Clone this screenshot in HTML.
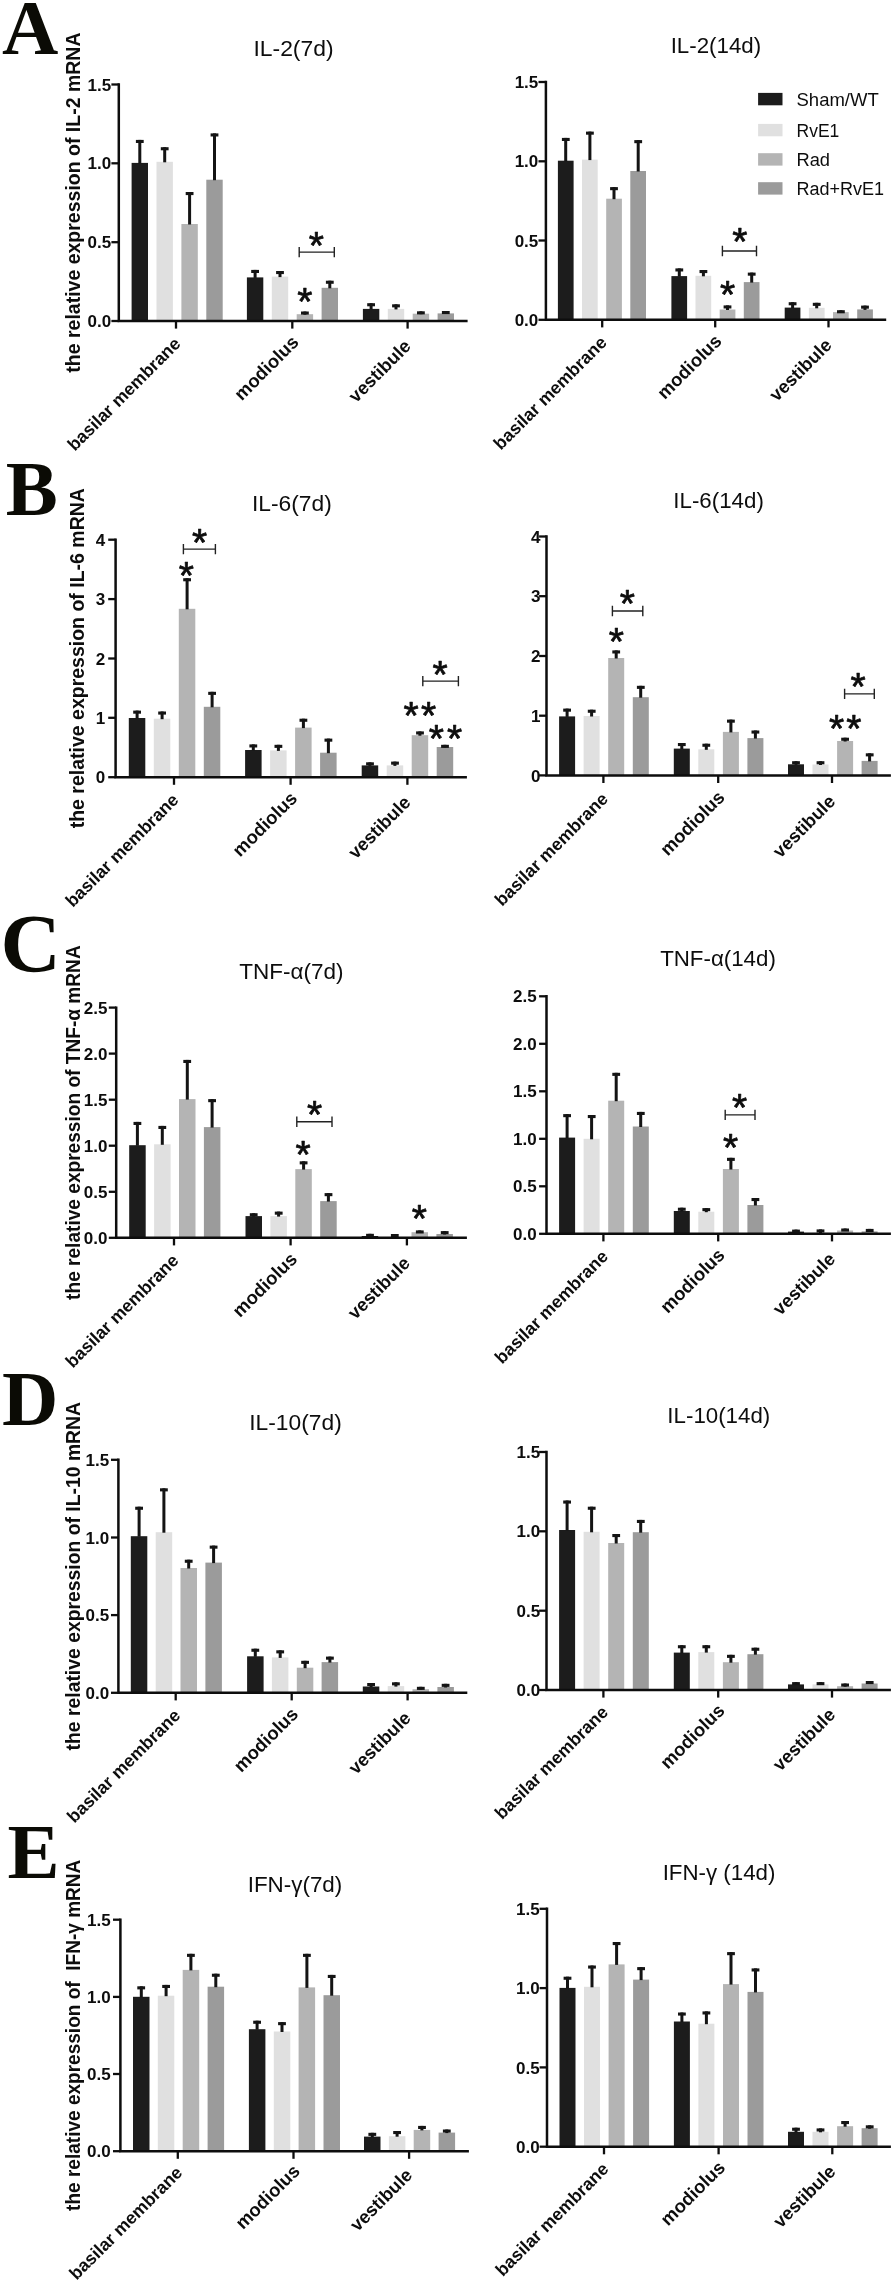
<!DOCTYPE html>
<html><head><meta charset="utf-8"><title>Figure</title>
<style>html,body{margin:0;padding:0;background:#fff}svg{display:block;will-change:transform}</style></head>
<body><svg width="894" height="2283" viewBox="0 0 894 2283">
<rect width="894" height="2283" fill="#fff"/>
<rect x="131.6" y="162.9" width="16.4" height="158.1" fill="#1c1c1c"/>
<rect x="138.3" y="139.9" width="3" height="23.5" fill="#141414"/>
<rect x="135.9" y="139.9" width="7.8" height="3.1" fill="#141414"/>
<rect x="156.5" y="161.8" width="16.4" height="159.2" fill="#e0e0e0"/>
<rect x="163.2" y="147.2" width="3" height="15.1" fill="#141414"/>
<rect x="160.8" y="147.2" width="7.8" height="3.1" fill="#141414"/>
<rect x="181.4" y="224.0" width="16.4" height="97.0" fill="#b4b4b4"/>
<rect x="188.1" y="192.0" width="3" height="32.5" fill="#141414"/>
<rect x="185.7" y="192.0" width="7.8" height="3.1" fill="#141414"/>
<rect x="206.3" y="179.7" width="16.4" height="141.3" fill="#9b9b9b"/>
<rect x="213.0" y="133.4" width="3" height="46.8" fill="#141414"/>
<rect x="210.6" y="133.4" width="7.8" height="3.1" fill="#141414"/>
<rect x="246.9" y="277.4" width="16.4" height="43.6" fill="#1c1c1c"/>
<rect x="253.6" y="269.9" width="3" height="8.0" fill="#141414"/>
<rect x="251.2" y="269.9" width="7.8" height="3.1" fill="#141414"/>
<rect x="271.8" y="276.6" width="16.4" height="44.4" fill="#e0e0e0"/>
<rect x="278.5" y="271.0" width="3" height="6.1" fill="#141414"/>
<rect x="276.1" y="271.0" width="7.8" height="3.1" fill="#141414"/>
<rect x="296.7" y="314.2" width="16.4" height="6.8" fill="#b4b4b4"/>
<rect x="303.4" y="311.5" width="3" height="3.2" fill="#141414"/>
<rect x="301.0" y="311.5" width="7.8" height="3.1" fill="#141414"/>
<rect x="321.6" y="287.8" width="16.4" height="33.2" fill="#9b9b9b"/>
<rect x="328.3" y="280.7" width="3" height="7.6" fill="#141414"/>
<rect x="325.9" y="280.7" width="7.8" height="3.1" fill="#141414"/>
<rect x="362.9" y="308.9" width="16.4" height="12.1" fill="#1c1c1c"/>
<rect x="369.6" y="303.2" width="3" height="6.2" fill="#141414"/>
<rect x="367.2" y="303.2" width="7.8" height="3.1" fill="#141414"/>
<rect x="387.8" y="308.9" width="16.4" height="12.1" fill="#e0e0e0"/>
<rect x="394.5" y="304.3" width="3" height="5.1" fill="#141414"/>
<rect x="392.1" y="304.3" width="7.8" height="3.1" fill="#141414"/>
<rect x="412.7" y="313.7" width="16.4" height="7.3" fill="#b4b4b4"/>
<rect x="419.4" y="311.3" width="3" height="2.9" fill="#141414"/>
<rect x="417.0" y="311.3" width="7.8" height="3.1" fill="#141414"/>
<rect x="437.6" y="313.4" width="16.4" height="7.6" fill="#9b9b9b"/>
<rect x="444.3" y="311.0" width="3" height="2.9" fill="#141414"/>
<rect x="441.9" y="311.0" width="7.8" height="3.1" fill="#141414"/>
<path d="M118.8 83.2V321.0H467.6" stroke="#0d0d0d" stroke-width="2.5" fill="none"/>
<path d="M111.4 84.5H118.8" stroke="#0d0d0d" stroke-width="2.3"/>
<text x="111.2" y="90.6" font-size="17" font-weight="bold" text-anchor="end" font-family="Liberation Sans, sans-serif" fill="#0d0d0d">1.5</text>
<path d="M111.4 163.3H118.8" stroke="#0d0d0d" stroke-width="2.3"/>
<text x="111.2" y="169.4" font-size="17" font-weight="bold" text-anchor="end" font-family="Liberation Sans, sans-serif" fill="#0d0d0d">1.0</text>
<path d="M111.4 242.2H118.8" stroke="#0d0d0d" stroke-width="2.3"/>
<text x="111.2" y="248.3" font-size="17" font-weight="bold" text-anchor="end" font-family="Liberation Sans, sans-serif" fill="#0d0d0d">0.5</text>
<path d="M111.4 321.0H118.8" stroke="#0d0d0d" stroke-width="2.3"/>
<text x="111.2" y="327.1" font-size="17" font-weight="bold" text-anchor="end" font-family="Liberation Sans, sans-serif" fill="#0d0d0d">0.0</text>
<path d="M176.0 321.0V328.6" stroke="#0d0d0d" stroke-width="2.3"/>
<path d="M292.3 321.0V328.6" stroke="#0d0d0d" stroke-width="2.3"/>
<path d="M407.6 321.0V328.6" stroke="#0d0d0d" stroke-width="2.3"/>
<text transform="translate(181.7 344.8) rotate(-45)" font-size="17.7" font-weight="bold" text-anchor="end" font-family="Liberation Sans, sans-serif" fill="#0d0d0d">basilar membrane</text>
<text transform="translate(299.9 343.3) rotate(-45)" font-size="18.5" font-weight="bold" text-anchor="end" font-family="Liberation Sans, sans-serif" fill="#0d0d0d">modiolus</text>
<text transform="translate(412.0 347.4) rotate(-45)" font-size="18.3" font-weight="bold" text-anchor="end" font-family="Liberation Sans, sans-serif" fill="#0d0d0d">vestibule</text>
<text x="293.5" y="56.0" font-size="22.9" text-anchor="middle" font-family="Liberation Sans, sans-serif" fill="#0d0d0d">IL-2(7d)</text>
<text transform="translate(80.0 202.6) rotate(-90) scale(1 1)" font-size="19.5" font-weight="bold" text-anchor="middle" font-family="Liberation Sans, sans-serif" fill="#0d0d0d">the relative expression of IL-2 mRNA</text>
<text x="316.3" y="258.8" font-size="39" text-anchor="middle" font-family="Liberation Sans, sans-serif" fill="#0d0d0d" stroke="#0d0d0d" stroke-width="0.7" stroke-linejoin="round">*</text>
<text x="304.8" y="314.5" font-size="39" text-anchor="middle" font-family="Liberation Sans, sans-serif" fill="#0d0d0d" stroke="#0d0d0d" stroke-width="0.7" stroke-linejoin="round">*</text>
<path d="M299.2 246.9V257.3M334.3 246.9V257.3M299.2 252.1H334.3" stroke="#222" stroke-width="1.4" fill="none"/>
<text x="2.0" y="54.2" font-size="78" font-weight="bold" font-family="Liberation Serif, serif" fill="#0b0b05">A</text>
<rect x="557.9" y="160.7" width="15.7" height="159.1" fill="#1c1c1c"/>
<rect x="564.2" y="137.9" width="3" height="23.3" fill="#141414"/>
<rect x="561.9" y="137.9" width="7.8" height="3.1" fill="#141414"/>
<rect x="582.0" y="159.6" width="15.7" height="160.2" fill="#e0e0e0"/>
<rect x="588.4" y="131.6" width="3" height="28.5" fill="#141414"/>
<rect x="586.0" y="131.6" width="7.8" height="3.1" fill="#141414"/>
<rect x="606.2" y="198.7" width="15.7" height="121.1" fill="#b4b4b4"/>
<rect x="612.5" y="187.1" width="3" height="12.1" fill="#141414"/>
<rect x="610.1" y="187.1" width="7.8" height="3.1" fill="#141414"/>
<rect x="630.3" y="171.0" width="15.7" height="148.8" fill="#9b9b9b"/>
<rect x="636.7" y="140.1" width="3" height="31.4" fill="#141414"/>
<rect x="634.3" y="140.1" width="7.8" height="3.1" fill="#141414"/>
<rect x="671.4" y="276.1" width="15.7" height="43.7" fill="#1c1c1c"/>
<rect x="677.8" y="268.4" width="3" height="8.2" fill="#141414"/>
<rect x="675.4" y="268.4" width="7.8" height="3.1" fill="#141414"/>
<rect x="695.5" y="275.8" width="15.7" height="44.0" fill="#e0e0e0"/>
<rect x="701.9" y="270.0" width="3" height="6.3" fill="#141414"/>
<rect x="699.5" y="270.0" width="7.8" height="3.1" fill="#141414"/>
<rect x="719.7" y="309.5" width="15.7" height="10.3" fill="#b4b4b4"/>
<rect x="726.0" y="305.4" width="3" height="4.6" fill="#141414"/>
<rect x="723.6" y="305.4" width="7.8" height="3.1" fill="#141414"/>
<rect x="743.8" y="282.1" width="15.7" height="37.7" fill="#9b9b9b"/>
<rect x="750.2" y="272.6" width="3" height="10.0" fill="#141414"/>
<rect x="747.8" y="272.6" width="7.8" height="3.1" fill="#141414"/>
<rect x="784.7" y="307.6" width="15.7" height="12.2" fill="#1c1c1c"/>
<rect x="791.1" y="302.2" width="3" height="5.9" fill="#141414"/>
<rect x="788.7" y="302.2" width="7.8" height="3.1" fill="#141414"/>
<rect x="808.9" y="307.8" width="15.7" height="12.0" fill="#e0e0e0"/>
<rect x="815.2" y="302.8" width="3" height="5.5" fill="#141414"/>
<rect x="812.8" y="302.8" width="7.8" height="3.1" fill="#141414"/>
<rect x="833.0" y="312.1" width="15.7" height="7.7" fill="#b4b4b4"/>
<rect x="839.4" y="310.2" width="3" height="2.4" fill="#141414"/>
<rect x="837.0" y="310.2" width="7.8" height="3.1" fill="#141414"/>
<rect x="857.2" y="309.4" width="15.7" height="10.4" fill="#9b9b9b"/>
<rect x="863.5" y="305.6" width="3" height="4.3" fill="#141414"/>
<rect x="861.1" y="305.6" width="7.8" height="3.1" fill="#141414"/>
<path d="M545.9 80.8V319.8H886.2" stroke="#0d0d0d" stroke-width="2.5" fill="none"/>
<path d="M538.5 82.0H545.9" stroke="#0d0d0d" stroke-width="2.3"/>
<text x="538.3" y="88.1" font-size="17" font-weight="bold" text-anchor="end" font-family="Liberation Sans, sans-serif" fill="#0d0d0d">1.5</text>
<path d="M538.5 161.3H545.9" stroke="#0d0d0d" stroke-width="2.3"/>
<text x="538.3" y="167.4" font-size="17" font-weight="bold" text-anchor="end" font-family="Liberation Sans, sans-serif" fill="#0d0d0d">1.0</text>
<path d="M538.5 240.5H545.9" stroke="#0d0d0d" stroke-width="2.3"/>
<text x="538.3" y="246.6" font-size="17" font-weight="bold" text-anchor="end" font-family="Liberation Sans, sans-serif" fill="#0d0d0d">0.5</text>
<path d="M538.5 319.8H545.9" stroke="#0d0d0d" stroke-width="2.3"/>
<text x="538.3" y="325.9" font-size="17" font-weight="bold" text-anchor="end" font-family="Liberation Sans, sans-serif" fill="#0d0d0d">0.0</text>
<path d="M602.2 319.8V327.4" stroke="#0d0d0d" stroke-width="2.3"/>
<path d="M715.2 319.8V327.4" stroke="#0d0d0d" stroke-width="2.3"/>
<path d="M828.5 319.8V327.4" stroke="#0d0d0d" stroke-width="2.3"/>
<text transform="translate(607.9 343.6) rotate(-45)" font-size="17.7" font-weight="bold" text-anchor="end" font-family="Liberation Sans, sans-serif" fill="#0d0d0d">basilar membrane</text>
<text transform="translate(722.8 342.1) rotate(-45)" font-size="18.5" font-weight="bold" text-anchor="end" font-family="Liberation Sans, sans-serif" fill="#0d0d0d">modiolus</text>
<text transform="translate(832.9 346.2) rotate(-45)" font-size="18.3" font-weight="bold" text-anchor="end" font-family="Liberation Sans, sans-serif" fill="#0d0d0d">vestibule</text>
<text x="715.9" y="52.9" font-size="22.3" text-anchor="middle" font-family="Liberation Sans, sans-serif" fill="#0d0d0d">IL-2(14d)</text>
<text x="739.9" y="254.8" font-size="39" text-anchor="middle" font-family="Liberation Sans, sans-serif" fill="#0d0d0d" stroke="#0d0d0d" stroke-width="0.7" stroke-linejoin="round">*</text>
<text x="727.6" y="307.5" font-size="39" text-anchor="middle" font-family="Liberation Sans, sans-serif" fill="#0d0d0d" stroke="#0d0d0d" stroke-width="0.7" stroke-linejoin="round">*</text>
<path d="M722.4 245.8V256.2M756.5 245.8V256.2M722.4 251.0H756.5" stroke="#222" stroke-width="1.4" fill="none"/>
<rect x="128.8" y="718.0" width="16.5" height="59.2" fill="#1c1c1c"/>
<rect x="135.6" y="710.6" width="3" height="7.9" fill="#141414"/>
<rect x="133.2" y="710.6" width="7.8" height="3.1" fill="#141414"/>
<rect x="153.8" y="718.7" width="16.5" height="58.5" fill="#e0e0e0"/>
<rect x="160.6" y="711.5" width="3" height="7.7" fill="#141414"/>
<rect x="158.2" y="711.5" width="7.8" height="3.1" fill="#141414"/>
<rect x="178.8" y="608.8" width="16.5" height="168.4" fill="#b4b4b4"/>
<rect x="185.6" y="578.2" width="3" height="31.1" fill="#141414"/>
<rect x="183.2" y="578.2" width="7.8" height="3.1" fill="#141414"/>
<rect x="203.8" y="706.8" width="16.5" height="70.4" fill="#9b9b9b"/>
<rect x="210.6" y="691.8" width="3" height="15.5" fill="#141414"/>
<rect x="208.2" y="691.8" width="7.8" height="3.1" fill="#141414"/>
<rect x="245.1" y="750.0" width="16.5" height="27.2" fill="#1c1c1c"/>
<rect x="251.8" y="744.4" width="3" height="6.1" fill="#141414"/>
<rect x="249.4" y="744.4" width="7.8" height="3.1" fill="#141414"/>
<rect x="270.1" y="750.4" width="16.5" height="26.8" fill="#e0e0e0"/>
<rect x="276.9" y="744.8" width="3" height="6.1" fill="#141414"/>
<rect x="274.5" y="744.8" width="7.8" height="3.1" fill="#141414"/>
<rect x="295.1" y="727.6" width="16.5" height="49.6" fill="#b4b4b4"/>
<rect x="301.9" y="718.7" width="3" height="9.4" fill="#141414"/>
<rect x="299.5" y="718.7" width="7.8" height="3.1" fill="#141414"/>
<rect x="320.1" y="752.7" width="16.5" height="24.5" fill="#9b9b9b"/>
<rect x="326.9" y="738.6" width="3" height="14.6" fill="#141414"/>
<rect x="324.5" y="738.6" width="7.8" height="3.1" fill="#141414"/>
<rect x="361.7" y="765.4" width="16.5" height="11.8" fill="#1c1c1c"/>
<rect x="368.4" y="762.3" width="3" height="3.6" fill="#141414"/>
<rect x="366.1" y="762.3" width="7.8" height="3.1" fill="#141414"/>
<rect x="386.7" y="765.4" width="16.5" height="11.8" fill="#e0e0e0"/>
<rect x="393.4" y="761.6" width="3" height="4.3" fill="#141414"/>
<rect x="391.1" y="761.6" width="7.8" height="3.1" fill="#141414"/>
<rect x="411.7" y="735.2" width="16.5" height="42.0" fill="#b4b4b4"/>
<rect x="418.4" y="731.4" width="3" height="4.3" fill="#141414"/>
<rect x="416.1" y="731.4" width="7.8" height="3.1" fill="#141414"/>
<rect x="436.7" y="747.0" width="16.5" height="30.2" fill="#9b9b9b"/>
<rect x="443.4" y="744.8" width="3" height="2.7" fill="#141414"/>
<rect x="441.1" y="744.8" width="7.8" height="3.1" fill="#141414"/>
<path d="M115.6 538.5V777.2H466.9" stroke="#0d0d0d" stroke-width="2.5" fill="none"/>
<path d="M108.2 539.7H115.6" stroke="#0d0d0d" stroke-width="2.3"/>
<text x="105.1" y="545.8" font-size="17" font-weight="bold" text-anchor="end" font-family="Liberation Sans, sans-serif" fill="#0d0d0d">4</text>
<path d="M108.2 599.1H115.6" stroke="#0d0d0d" stroke-width="2.3"/>
<text x="105.1" y="605.2" font-size="17" font-weight="bold" text-anchor="end" font-family="Liberation Sans, sans-serif" fill="#0d0d0d">3</text>
<path d="M108.2 658.5H115.6" stroke="#0d0d0d" stroke-width="2.3"/>
<text x="105.1" y="664.6" font-size="17" font-weight="bold" text-anchor="end" font-family="Liberation Sans, sans-serif" fill="#0d0d0d">2</text>
<path d="M108.2 717.8H115.6" stroke="#0d0d0d" stroke-width="2.3"/>
<text x="105.1" y="723.9" font-size="17" font-weight="bold" text-anchor="end" font-family="Liberation Sans, sans-serif" fill="#0d0d0d">1</text>
<path d="M108.2 777.2H115.6" stroke="#0d0d0d" stroke-width="2.3"/>
<text x="105.1" y="783.3" font-size="17" font-weight="bold" text-anchor="end" font-family="Liberation Sans, sans-serif" fill="#0d0d0d">0</text>
<path d="M174.0 777.2V784.8" stroke="#0d0d0d" stroke-width="2.3"/>
<path d="M290.6 777.2V784.8" stroke="#0d0d0d" stroke-width="2.3"/>
<path d="M407.4 777.2V784.8" stroke="#0d0d0d" stroke-width="2.3"/>
<text transform="translate(179.7 801.0) rotate(-45)" font-size="17.7" font-weight="bold" text-anchor="end" font-family="Liberation Sans, sans-serif" fill="#0d0d0d">basilar membrane</text>
<text transform="translate(298.2 799.5) rotate(-45)" font-size="18.5" font-weight="bold" text-anchor="end" font-family="Liberation Sans, sans-serif" fill="#0d0d0d">modiolus</text>
<text transform="translate(411.8 803.6) rotate(-45)" font-size="18.3" font-weight="bold" text-anchor="end" font-family="Liberation Sans, sans-serif" fill="#0d0d0d">vestibule</text>
<text x="291.9" y="510.8" font-size="22.8" text-anchor="middle" font-family="Liberation Sans, sans-serif" fill="#0d0d0d">IL-6(7d)</text>
<text transform="translate(83.7 658.2) rotate(-90) scale(1 1)" font-size="19.5" font-weight="bold" text-anchor="middle" font-family="Liberation Sans, sans-serif" fill="#0d0d0d">the relative expression of IL-6 mRNA</text>
<text x="199.7" y="556.0" font-size="39" text-anchor="middle" font-family="Liberation Sans, sans-serif" fill="#0d0d0d" stroke="#0d0d0d" stroke-width="0.7" stroke-linejoin="round">*</text>
<text x="186.4" y="588.9" font-size="39" text-anchor="middle" font-family="Liberation Sans, sans-serif" fill="#0d0d0d" stroke="#0d0d0d" stroke-width="0.7" stroke-linejoin="round">*</text>
<text x="440.0" y="687.6" font-size="39" text-anchor="middle" font-family="Liberation Sans, sans-serif" fill="#0d0d0d" stroke="#0d0d0d" stroke-width="0.7" stroke-linejoin="round">*</text>
<text x="411.0" y="728.8" font-size="39" text-anchor="middle" font-family="Liberation Sans, sans-serif" fill="#0d0d0d" stroke="#0d0d0d" stroke-width="0.7" stroke-linejoin="round">*</text>
<text x="428.7" y="728.8" font-size="39" text-anchor="middle" font-family="Liberation Sans, sans-serif" fill="#0d0d0d" stroke="#0d0d0d" stroke-width="0.7" stroke-linejoin="round">*</text>
<text x="436.3" y="751.6" font-size="39" text-anchor="middle" font-family="Liberation Sans, sans-serif" fill="#0d0d0d" stroke="#0d0d0d" stroke-width="0.7" stroke-linejoin="round">*</text>
<text x="454.5" y="751.6" font-size="39" text-anchor="middle" font-family="Liberation Sans, sans-serif" fill="#0d0d0d" stroke="#0d0d0d" stroke-width="0.7" stroke-linejoin="round">*</text>
<path d="M183.4 543.9V554.3M215.4 543.9V554.3M183.4 549.1H215.4" stroke="#222" stroke-width="1.4" fill="none"/>
<path d="M422.8 675.9V686.3M458.4 675.9V686.3M422.8 681.1H458.4" stroke="#222" stroke-width="1.4" fill="none"/>
<text x="5.7" y="514.7" font-size="78" font-weight="bold" font-family="Liberation Serif, serif" fill="#0b0b05">B</text>
<rect x="559.1" y="716.4" width="16.0" height="59.0" fill="#1c1c1c"/>
<rect x="565.6" y="708.6" width="3" height="8.3" fill="#141414"/>
<rect x="563.2" y="708.6" width="7.8" height="3.1" fill="#141414"/>
<rect x="583.6" y="716.0" width="16.0" height="59.4" fill="#e0e0e0"/>
<rect x="590.1" y="709.7" width="3" height="6.8" fill="#141414"/>
<rect x="587.8" y="709.7" width="7.8" height="3.1" fill="#141414"/>
<rect x="608.2" y="658.0" width="16.0" height="117.4" fill="#b4b4b4"/>
<rect x="614.7" y="650.4" width="3" height="8.1" fill="#141414"/>
<rect x="612.3" y="650.4" width="7.8" height="3.1" fill="#141414"/>
<rect x="632.8" y="697.2" width="16.0" height="78.2" fill="#9b9b9b"/>
<rect x="639.2" y="685.8" width="3" height="11.9" fill="#141414"/>
<rect x="636.9" y="685.8" width="7.8" height="3.1" fill="#141414"/>
<rect x="673.8" y="748.6" width="16.0" height="26.8" fill="#1c1c1c"/>
<rect x="680.3" y="743.0" width="3" height="6.1" fill="#141414"/>
<rect x="677.9" y="743.0" width="7.8" height="3.1" fill="#141414"/>
<rect x="698.3" y="749.3" width="16.0" height="26.1" fill="#e0e0e0"/>
<rect x="704.8" y="743.7" width="3" height="6.1" fill="#141414"/>
<rect x="702.4" y="743.7" width="7.8" height="3.1" fill="#141414"/>
<rect x="722.9" y="731.9" width="16.0" height="43.5" fill="#b4b4b4"/>
<rect x="729.4" y="719.6" width="3" height="12.8" fill="#141414"/>
<rect x="727.0" y="719.6" width="7.8" height="3.1" fill="#141414"/>
<rect x="747.4" y="738.1" width="16.0" height="37.3" fill="#9b9b9b"/>
<rect x="753.9" y="730.5" width="3" height="8.1" fill="#141414"/>
<rect x="751.5" y="730.5" width="7.8" height="3.1" fill="#141414"/>
<rect x="788.0" y="764.3" width="16.0" height="11.1" fill="#1c1c1c"/>
<rect x="794.5" y="761.2" width="3" height="3.6" fill="#141414"/>
<rect x="792.1" y="761.2" width="7.8" height="3.1" fill="#141414"/>
<rect x="812.5" y="764.5" width="16.0" height="10.9" fill="#e0e0e0"/>
<rect x="819.0" y="761.2" width="3" height="3.8" fill="#141414"/>
<rect x="816.6" y="761.2" width="7.8" height="3.1" fill="#141414"/>
<rect x="837.1" y="741.0" width="16.0" height="34.4" fill="#b4b4b4"/>
<rect x="843.6" y="737.7" width="3" height="3.8" fill="#141414"/>
<rect x="841.2" y="737.7" width="7.8" height="3.1" fill="#141414"/>
<rect x="861.6" y="760.9" width="16.0" height="14.5" fill="#9b9b9b"/>
<rect x="868.1" y="753.3" width="3" height="8.1" fill="#141414"/>
<rect x="865.8" y="753.3" width="7.8" height="3.1" fill="#141414"/>
<path d="M546.5 535.2V775.4H890.9" stroke="#0d0d0d" stroke-width="2.5" fill="none"/>
<path d="M539.1 536.5H546.5" stroke="#0d0d0d" stroke-width="2.3"/>
<text x="540.5" y="542.6" font-size="17" font-weight="bold" text-anchor="end" font-family="Liberation Sans, sans-serif" fill="#0d0d0d">4</text>
<path d="M539.1 596.2H546.5" stroke="#0d0d0d" stroke-width="2.3"/>
<text x="540.5" y="602.3" font-size="17" font-weight="bold" text-anchor="end" font-family="Liberation Sans, sans-serif" fill="#0d0d0d">3</text>
<path d="M539.1 656.0H546.5" stroke="#0d0d0d" stroke-width="2.3"/>
<text x="540.5" y="662.1" font-size="17" font-weight="bold" text-anchor="end" font-family="Liberation Sans, sans-serif" fill="#0d0d0d">2</text>
<path d="M539.1 715.7H546.5" stroke="#0d0d0d" stroke-width="2.3"/>
<text x="540.5" y="721.8" font-size="17" font-weight="bold" text-anchor="end" font-family="Liberation Sans, sans-serif" fill="#0d0d0d">1</text>
<path d="M539.1 775.4H546.5" stroke="#0d0d0d" stroke-width="2.3"/>
<text x="540.5" y="781.5" font-size="17" font-weight="bold" text-anchor="end" font-family="Liberation Sans, sans-serif" fill="#0d0d0d">0</text>
<path d="M603.4 775.4V783.0" stroke="#0d0d0d" stroke-width="2.3"/>
<path d="M718.2 775.4V783.0" stroke="#0d0d0d" stroke-width="2.3"/>
<path d="M832.0 775.4V783.0" stroke="#0d0d0d" stroke-width="2.3"/>
<text transform="translate(609.1 800.0) rotate(-45)" font-size="17.7" font-weight="bold" text-anchor="end" font-family="Liberation Sans, sans-serif" fill="#0d0d0d">basilar membrane</text>
<text transform="translate(725.8 798.5) rotate(-45)" font-size="18.5" font-weight="bold" text-anchor="end" font-family="Liberation Sans, sans-serif" fill="#0d0d0d">modiolus</text>
<text transform="translate(836.4 802.6) rotate(-45)" font-size="18.3" font-weight="bold" text-anchor="end" font-family="Liberation Sans, sans-serif" fill="#0d0d0d">vestibule</text>
<text x="718.6" y="507.9" font-size="22.3" text-anchor="middle" font-family="Liberation Sans, sans-serif" fill="#0d0d0d">IL-6(14d)</text>
<text x="627.4" y="617.4" font-size="39" text-anchor="middle" font-family="Liberation Sans, sans-serif" fill="#0d0d0d" stroke="#0d0d0d" stroke-width="0.7" stroke-linejoin="round">*</text>
<text x="616.4" y="655.3" font-size="39" text-anchor="middle" font-family="Liberation Sans, sans-serif" fill="#0d0d0d" stroke="#0d0d0d" stroke-width="0.7" stroke-linejoin="round">*</text>
<text x="858.0" y="699.7" font-size="39" text-anchor="middle" font-family="Liberation Sans, sans-serif" fill="#0d0d0d" stroke="#0d0d0d" stroke-width="0.7" stroke-linejoin="round">*</text>
<text x="836.7" y="741.5" font-size="39" text-anchor="middle" font-family="Liberation Sans, sans-serif" fill="#0d0d0d" stroke="#0d0d0d" stroke-width="0.7" stroke-linejoin="round">*</text>
<text x="853.8" y="741.5" font-size="39" text-anchor="middle" font-family="Liberation Sans, sans-serif" fill="#0d0d0d" stroke="#0d0d0d" stroke-width="0.7" stroke-linejoin="round">*</text>
<path d="M612.4 605.8V616.2M642.8 605.8V616.2M612.4 611.0H642.8" stroke="#222" stroke-width="1.4" fill="none"/>
<path d="M844.6 688.7V699.1M874.3 688.7V699.1M844.6 693.9H874.3" stroke="#222" stroke-width="1.4" fill="none"/>
<rect x="129.2" y="1145.2" width="16.5" height="92.6" fill="#1c1c1c"/>
<rect x="135.9" y="1121.9" width="3" height="23.8" fill="#141414"/>
<rect x="133.5" y="1121.9" width="7.8" height="3.1" fill="#141414"/>
<rect x="154.1" y="1144.3" width="16.5" height="93.5" fill="#e0e0e0"/>
<rect x="160.8" y="1125.9" width="3" height="18.9" fill="#141414"/>
<rect x="158.4" y="1125.9" width="7.8" height="3.1" fill="#141414"/>
<rect x="179.0" y="1099.1" width="16.5" height="138.7" fill="#b4b4b4"/>
<rect x="185.8" y="1059.9" width="3" height="39.7" fill="#141414"/>
<rect x="183.3" y="1059.9" width="7.8" height="3.1" fill="#141414"/>
<rect x="203.9" y="1127.1" width="16.5" height="110.7" fill="#9b9b9b"/>
<rect x="210.6" y="1099.1" width="3" height="28.5" fill="#141414"/>
<rect x="208.2" y="1099.1" width="7.8" height="3.1" fill="#141414"/>
<rect x="245.5" y="1216.1" width="16.5" height="21.7" fill="#1c1c1c"/>
<rect x="252.2" y="1213.2" width="3" height="3.4" fill="#141414"/>
<rect x="249.8" y="1213.2" width="7.8" height="3.1" fill="#141414"/>
<rect x="270.4" y="1216.1" width="16.5" height="21.7" fill="#e0e0e0"/>
<rect x="277.1" y="1211.6" width="3" height="5.0" fill="#141414"/>
<rect x="274.8" y="1211.6" width="7.8" height="3.1" fill="#141414"/>
<rect x="295.3" y="1169.1" width="16.5" height="68.7" fill="#b4b4b4"/>
<rect x="302.1" y="1161.3" width="3" height="8.3" fill="#141414"/>
<rect x="299.7" y="1161.3" width="7.8" height="3.1" fill="#141414"/>
<rect x="320.2" y="1201.1" width="16.5" height="36.7" fill="#9b9b9b"/>
<rect x="326.9" y="1193.1" width="3" height="8.5" fill="#141414"/>
<rect x="324.6" y="1193.1" width="7.8" height="3.1" fill="#141414"/>
<rect x="361.7" y="1236.0" width="16.5" height="1.8" fill="#1c1c1c"/>
<rect x="368.4" y="1233.8" width="3" height="2.7" fill="#141414"/>
<rect x="366.1" y="1233.8" width="7.8" height="3.1" fill="#141414"/>
<rect x="386.6" y="1236.9" width="16.5" height="0.9" fill="#e0e0e0"/>
<rect x="393.3" y="1234.0" width="3" height="3.4" fill="#141414"/>
<rect x="390.9" y="1234.0" width="7.8" height="3.1" fill="#141414"/>
<rect x="411.5" y="1232.2" width="16.5" height="5.6" fill="#b4b4b4"/>
<rect x="418.2" y="1230.4" width="3" height="2.3" fill="#141414"/>
<rect x="415.9" y="1230.4" width="7.8" height="3.1" fill="#141414"/>
<rect x="436.4" y="1234.0" width="16.5" height="3.8" fill="#9b9b9b"/>
<rect x="443.1" y="1231.1" width="3" height="3.4" fill="#141414"/>
<rect x="440.8" y="1231.1" width="7.8" height="3.1" fill="#141414"/>
<path d="M116.2 1006.4V1237.8H466.9" stroke="#0d0d0d" stroke-width="2.5" fill="none"/>
<path d="M108.8 1007.6H116.2" stroke="#0d0d0d" stroke-width="2.3"/>
<text x="107.4" y="1013.7" font-size="17" font-weight="bold" text-anchor="end" font-family="Liberation Sans, sans-serif" fill="#0d0d0d">2.5</text>
<path d="M108.8 1053.6H116.2" stroke="#0d0d0d" stroke-width="2.3"/>
<text x="107.4" y="1059.7" font-size="17" font-weight="bold" text-anchor="end" font-family="Liberation Sans, sans-serif" fill="#0d0d0d">2.0</text>
<path d="M108.8 1099.7H116.2" stroke="#0d0d0d" stroke-width="2.3"/>
<text x="107.4" y="1105.8" font-size="17" font-weight="bold" text-anchor="end" font-family="Liberation Sans, sans-serif" fill="#0d0d0d">1.5</text>
<path d="M108.8 1145.7H116.2" stroke="#0d0d0d" stroke-width="2.3"/>
<text x="107.4" y="1151.8" font-size="17" font-weight="bold" text-anchor="end" font-family="Liberation Sans, sans-serif" fill="#0d0d0d">1.0</text>
<path d="M108.8 1191.8H116.2" stroke="#0d0d0d" stroke-width="2.3"/>
<text x="107.4" y="1197.9" font-size="17" font-weight="bold" text-anchor="end" font-family="Liberation Sans, sans-serif" fill="#0d0d0d">0.5</text>
<path d="M108.8 1237.8H116.2" stroke="#0d0d0d" stroke-width="2.3"/>
<text x="107.4" y="1243.9" font-size="17" font-weight="bold" text-anchor="end" font-family="Liberation Sans, sans-serif" fill="#0d0d0d">0.0</text>
<path d="M174.0 1237.8V1245.4" stroke="#0d0d0d" stroke-width="2.3"/>
<path d="M290.6 1237.8V1245.4" stroke="#0d0d0d" stroke-width="2.3"/>
<path d="M406.9 1237.8V1245.4" stroke="#0d0d0d" stroke-width="2.3"/>
<text transform="translate(179.7 1261.6) rotate(-45)" font-size="17.7" font-weight="bold" text-anchor="end" font-family="Liberation Sans, sans-serif" fill="#0d0d0d">basilar membrane</text>
<text transform="translate(298.2 1260.1) rotate(-45)" font-size="18.5" font-weight="bold" text-anchor="end" font-family="Liberation Sans, sans-serif" fill="#0d0d0d">modiolus</text>
<text transform="translate(411.3 1264.2) rotate(-45)" font-size="18.3" font-weight="bold" text-anchor="end" font-family="Liberation Sans, sans-serif" fill="#0d0d0d">vestibule</text>
<text x="291.3" y="978.7" font-size="22.5" text-anchor="middle" font-family="Liberation Sans, sans-serif" fill="#0d0d0d">TNF-α(7d)</text>
<text transform="translate(80.0 1122.6) rotate(-90) scale(0.98 1)" font-size="19.5" font-weight="bold" text-anchor="middle" font-family="Liberation Sans, sans-serif" fill="#0d0d0d">the relative expression of TNF-α mRNA</text>
<text x="314.7" y="1128.4" font-size="39" text-anchor="middle" font-family="Liberation Sans, sans-serif" fill="#0d0d0d" stroke="#0d0d0d" stroke-width="0.7" stroke-linejoin="round">*</text>
<text x="303.2" y="1167.9" font-size="39" text-anchor="middle" font-family="Liberation Sans, sans-serif" fill="#0d0d0d" stroke="#0d0d0d" stroke-width="0.7" stroke-linejoin="round">*</text>
<text x="419.4" y="1231.6" font-size="39" text-anchor="middle" font-family="Liberation Sans, sans-serif" fill="#0d0d0d" stroke="#0d0d0d" stroke-width="0.7" stroke-linejoin="round">*</text>
<path d="M296.8 1116.5V1126.9M332.0 1116.5V1126.9M296.8 1121.7H332.0" stroke="#222" stroke-width="1.4" fill="none"/>
<text x="0.4" y="971.4" font-size="83.5" font-weight="bold" font-family="Liberation Serif, serif" fill="#0b0b05">C</text>
<rect x="559.1" y="1137.6" width="16.0" height="96.2" fill="#1c1c1c"/>
<rect x="565.6" y="1114.1" width="3" height="24.0" fill="#141414"/>
<rect x="563.2" y="1114.1" width="7.8" height="3.1" fill="#141414"/>
<rect x="583.6" y="1138.8" width="16.0" height="95.0" fill="#e0e0e0"/>
<rect x="590.1" y="1115.0" width="3" height="24.3" fill="#141414"/>
<rect x="587.8" y="1115.0" width="7.8" height="3.1" fill="#141414"/>
<rect x="608.2" y="1100.7" width="16.0" height="133.1" fill="#b4b4b4"/>
<rect x="614.7" y="1072.8" width="3" height="28.4" fill="#141414"/>
<rect x="612.3" y="1072.8" width="7.8" height="3.1" fill="#141414"/>
<rect x="632.8" y="1126.5" width="16.0" height="107.3" fill="#9b9b9b"/>
<rect x="639.2" y="1111.9" width="3" height="15.1" fill="#141414"/>
<rect x="636.9" y="1111.9" width="7.8" height="3.1" fill="#141414"/>
<rect x="673.8" y="1211.0" width="16.0" height="22.8" fill="#1c1c1c"/>
<rect x="680.3" y="1207.7" width="3" height="3.8" fill="#141414"/>
<rect x="677.9" y="1207.7" width="7.8" height="3.1" fill="#141414"/>
<rect x="698.3" y="1211.7" width="16.0" height="22.1" fill="#e0e0e0"/>
<rect x="704.8" y="1208.1" width="3" height="4.1" fill="#141414"/>
<rect x="702.4" y="1208.1" width="7.8" height="3.1" fill="#141414"/>
<rect x="722.9" y="1169.0" width="16.0" height="64.8" fill="#b4b4b4"/>
<rect x="729.4" y="1157.8" width="3" height="11.7" fill="#141414"/>
<rect x="727.0" y="1157.8" width="7.8" height="3.1" fill="#141414"/>
<rect x="747.4" y="1205.0" width="16.0" height="28.8" fill="#9b9b9b"/>
<rect x="753.9" y="1198.0" width="3" height="7.5" fill="#141414"/>
<rect x="751.5" y="1198.0" width="7.8" height="3.1" fill="#141414"/>
<rect x="788.0" y="1231.6" width="16.0" height="2.2" fill="#1c1c1c"/>
<rect x="794.5" y="1229.6" width="3" height="2.5" fill="#141414"/>
<rect x="792.1" y="1229.6" width="7.8" height="3.1" fill="#141414"/>
<rect x="812.5" y="1232.7" width="16.0" height="1.1" fill="#e0e0e0"/>
<rect x="819.0" y="1229.4" width="3" height="3.8" fill="#141414"/>
<rect x="816.6" y="1229.4" width="7.8" height="3.1" fill="#141414"/>
<rect x="837.1" y="1230.5" width="16.0" height="3.3" fill="#b4b4b4"/>
<rect x="843.6" y="1228.5" width="3" height="2.5" fill="#141414"/>
<rect x="841.2" y="1228.5" width="7.8" height="3.1" fill="#141414"/>
<rect x="861.6" y="1231.4" width="16.0" height="2.4" fill="#9b9b9b"/>
<rect x="868.1" y="1228.9" width="3" height="3.0" fill="#141414"/>
<rect x="865.8" y="1228.9" width="7.8" height="3.1" fill="#141414"/>
<path d="M546.5 995.0V1233.8H890.9" stroke="#0d0d0d" stroke-width="2.5" fill="none"/>
<path d="M539.1 996.3H546.5" stroke="#0d0d0d" stroke-width="2.3"/>
<text x="536.7" y="1002.4" font-size="17" font-weight="bold" text-anchor="end" font-family="Liberation Sans, sans-serif" fill="#0d0d0d">2.5</text>
<path d="M539.1 1043.8H546.5" stroke="#0d0d0d" stroke-width="2.3"/>
<text x="536.7" y="1049.9" font-size="17" font-weight="bold" text-anchor="end" font-family="Liberation Sans, sans-serif" fill="#0d0d0d">2.0</text>
<path d="M539.1 1091.3H546.5" stroke="#0d0d0d" stroke-width="2.3"/>
<text x="536.7" y="1097.4" font-size="17" font-weight="bold" text-anchor="end" font-family="Liberation Sans, sans-serif" fill="#0d0d0d">1.5</text>
<path d="M539.1 1138.8H546.5" stroke="#0d0d0d" stroke-width="2.3"/>
<text x="536.7" y="1144.9" font-size="17" font-weight="bold" text-anchor="end" font-family="Liberation Sans, sans-serif" fill="#0d0d0d">1.0</text>
<path d="M539.1 1186.3H546.5" stroke="#0d0d0d" stroke-width="2.3"/>
<text x="536.7" y="1192.4" font-size="17" font-weight="bold" text-anchor="end" font-family="Liberation Sans, sans-serif" fill="#0d0d0d">0.5</text>
<path d="M539.1 1233.8H546.5" stroke="#0d0d0d" stroke-width="2.3"/>
<text x="536.7" y="1239.9" font-size="17" font-weight="bold" text-anchor="end" font-family="Liberation Sans, sans-serif" fill="#0d0d0d">0.0</text>
<path d="M603.4 1233.8V1241.4" stroke="#0d0d0d" stroke-width="2.3"/>
<path d="M718.2 1233.8V1241.4" stroke="#0d0d0d" stroke-width="2.3"/>
<path d="M832.0 1233.8V1241.4" stroke="#0d0d0d" stroke-width="2.3"/>
<text transform="translate(609.1 1257.6) rotate(-45)" font-size="17.7" font-weight="bold" text-anchor="end" font-family="Liberation Sans, sans-serif" fill="#0d0d0d">basilar membrane</text>
<text transform="translate(725.8 1256.1) rotate(-45)" font-size="18.5" font-weight="bold" text-anchor="end" font-family="Liberation Sans, sans-serif" fill="#0d0d0d">modiolus</text>
<text transform="translate(836.4 1260.2) rotate(-45)" font-size="18.3" font-weight="bold" text-anchor="end" font-family="Liberation Sans, sans-serif" fill="#0d0d0d">vestibule</text>
<text x="718.0" y="966.3" font-size="22.3" text-anchor="middle" font-family="Liberation Sans, sans-serif" fill="#0d0d0d">TNF-α(14d)</text>
<text x="739.6" y="1120.9" font-size="39" text-anchor="middle" font-family="Liberation Sans, sans-serif" fill="#0d0d0d" stroke="#0d0d0d" stroke-width="0.7" stroke-linejoin="round">*</text>
<text x="730.5" y="1161.4" font-size="39" text-anchor="middle" font-family="Liberation Sans, sans-serif" fill="#0d0d0d" stroke="#0d0d0d" stroke-width="0.7" stroke-linejoin="round">*</text>
<path d="M725.2 1109.7V1120.1M755.0 1109.7V1120.1M725.2 1114.9H755.0" stroke="#222" stroke-width="1.4" fill="none"/>
<rect x="130.8" y="1536.2" width="16.5" height="156.6" fill="#1c1c1c"/>
<rect x="137.6" y="1506.7" width="3" height="30.0" fill="#141414"/>
<rect x="135.2" y="1506.7" width="7.8" height="3.1" fill="#141414"/>
<rect x="155.7" y="1532.2" width="16.5" height="160.6" fill="#e0e0e0"/>
<rect x="162.4" y="1488.3" width="3" height="44.4" fill="#141414"/>
<rect x="160.0" y="1488.3" width="7.8" height="3.1" fill="#141414"/>
<rect x="180.5" y="1568.0" width="16.5" height="124.8" fill="#b4b4b4"/>
<rect x="187.2" y="1559.7" width="3" height="8.8" fill="#141414"/>
<rect x="184.8" y="1559.7" width="7.8" height="3.1" fill="#141414"/>
<rect x="205.4" y="1562.6" width="16.5" height="130.2" fill="#9b9b9b"/>
<rect x="212.1" y="1545.6" width="3" height="17.5" fill="#141414"/>
<rect x="209.7" y="1545.6" width="7.8" height="3.1" fill="#141414"/>
<rect x="247.1" y="1656.3" width="16.5" height="36.5" fill="#1c1c1c"/>
<rect x="253.8" y="1648.7" width="3" height="8.1" fill="#141414"/>
<rect x="251.4" y="1648.7" width="7.8" height="3.1" fill="#141414"/>
<rect x="271.9" y="1657.4" width="16.5" height="35.4" fill="#e0e0e0"/>
<rect x="278.7" y="1650.3" width="3" height="7.6" fill="#141414"/>
<rect x="276.3" y="1650.3" width="7.8" height="3.1" fill="#141414"/>
<rect x="296.8" y="1667.7" width="16.5" height="25.1" fill="#b4b4b4"/>
<rect x="303.6" y="1660.8" width="3" height="7.4" fill="#141414"/>
<rect x="301.2" y="1660.8" width="7.8" height="3.1" fill="#141414"/>
<rect x="321.6" y="1662.1" width="16.5" height="30.7" fill="#9b9b9b"/>
<rect x="328.4" y="1656.6" width="3" height="6.0" fill="#141414"/>
<rect x="326.0" y="1656.6" width="7.8" height="3.1" fill="#141414"/>
<rect x="362.8" y="1686.5" width="16.5" height="6.3" fill="#1c1c1c"/>
<rect x="369.6" y="1683.0" width="3" height="4.0" fill="#141414"/>
<rect x="367.2" y="1683.0" width="7.8" height="3.1" fill="#141414"/>
<rect x="387.7" y="1686.1" width="16.5" height="6.7" fill="#e0e0e0"/>
<rect x="394.4" y="1682.3" width="3" height="4.3" fill="#141414"/>
<rect x="392.0" y="1682.3" width="7.8" height="3.1" fill="#141414"/>
<rect x="412.5" y="1689.2" width="16.5" height="3.6" fill="#b4b4b4"/>
<rect x="419.2" y="1686.8" width="3" height="2.9" fill="#141414"/>
<rect x="416.9" y="1686.8" width="7.8" height="3.1" fill="#141414"/>
<rect x="437.4" y="1687.0" width="16.5" height="5.8" fill="#9b9b9b"/>
<rect x="444.1" y="1683.8" width="3" height="3.7" fill="#141414"/>
<rect x="441.7" y="1683.8" width="7.8" height="3.1" fill="#141414"/>
<path d="M118.4 1458.5V1692.8H467.3" stroke="#0d0d0d" stroke-width="2.5" fill="none"/>
<path d="M111.0 1459.8H118.4" stroke="#0d0d0d" stroke-width="2.3"/>
<text x="109.1" y="1465.9" font-size="17" font-weight="bold" text-anchor="end" font-family="Liberation Sans, sans-serif" fill="#0d0d0d">1.5</text>
<path d="M111.0 1537.5H118.4" stroke="#0d0d0d" stroke-width="2.3"/>
<text x="109.1" y="1543.6" font-size="17" font-weight="bold" text-anchor="end" font-family="Liberation Sans, sans-serif" fill="#0d0d0d">1.0</text>
<path d="M111.0 1615.1H118.4" stroke="#0d0d0d" stroke-width="2.3"/>
<text x="109.1" y="1621.2" font-size="17" font-weight="bold" text-anchor="end" font-family="Liberation Sans, sans-serif" fill="#0d0d0d">0.5</text>
<path d="M111.0 1692.8H118.4" stroke="#0d0d0d" stroke-width="2.3"/>
<text x="109.1" y="1698.9" font-size="17" font-weight="bold" text-anchor="end" font-family="Liberation Sans, sans-serif" fill="#0d0d0d">0.0</text>
<path d="M175.7 1692.8V1700.4" stroke="#0d0d0d" stroke-width="2.3"/>
<path d="M291.7 1692.8V1700.4" stroke="#0d0d0d" stroke-width="2.3"/>
<path d="M407.6 1692.8V1700.4" stroke="#0d0d0d" stroke-width="2.3"/>
<text transform="translate(181.4 1716.6) rotate(-45)" font-size="17.7" font-weight="bold" text-anchor="end" font-family="Liberation Sans, sans-serif" fill="#0d0d0d">basilar membrane</text>
<text transform="translate(299.3 1715.1) rotate(-45)" font-size="18.5" font-weight="bold" text-anchor="end" font-family="Liberation Sans, sans-serif" fill="#0d0d0d">modiolus</text>
<text transform="translate(412.0 1719.2) rotate(-45)" font-size="18.3" font-weight="bold" text-anchor="end" font-family="Liberation Sans, sans-serif" fill="#0d0d0d">vestibule</text>
<text x="295.5" y="1429.9" font-size="22.8" text-anchor="middle" font-family="Liberation Sans, sans-serif" fill="#0d0d0d">IL-10(7d)</text>
<text transform="translate(80.0 1576.2) rotate(-90) scale(0.993 1)" font-size="19.5" font-weight="bold" text-anchor="middle" font-family="Liberation Sans, sans-serif" fill="#0d0d0d">the relative expression of IL-10 mRNA</text>
<text x="2.0" y="1424.7" font-size="78" font-weight="bold" font-family="Liberation Serif, serif" fill="#0b0b05">D</text>
<rect x="559.1" y="1530.0" width="16.0" height="160.0" fill="#1c1c1c"/>
<rect x="565.6" y="1500.5" width="3" height="30.0" fill="#141414"/>
<rect x="563.2" y="1500.5" width="7.8" height="3.1" fill="#141414"/>
<rect x="583.6" y="1531.8" width="16.0" height="158.2" fill="#e0e0e0"/>
<rect x="590.1" y="1506.7" width="3" height="25.6" fill="#141414"/>
<rect x="587.8" y="1506.7" width="7.8" height="3.1" fill="#141414"/>
<rect x="608.2" y="1543.0" width="16.0" height="147.0" fill="#b4b4b4"/>
<rect x="614.7" y="1534.0" width="3" height="9.5" fill="#141414"/>
<rect x="612.3" y="1534.0" width="7.8" height="3.1" fill="#141414"/>
<rect x="632.8" y="1532.2" width="16.0" height="157.8" fill="#9b9b9b"/>
<rect x="639.2" y="1519.9" width="3" height="12.8" fill="#141414"/>
<rect x="636.9" y="1519.9" width="7.8" height="3.1" fill="#141414"/>
<rect x="673.8" y="1652.6" width="16.0" height="37.4" fill="#1c1c1c"/>
<rect x="680.3" y="1645.2" width="3" height="7.9" fill="#141414"/>
<rect x="677.9" y="1645.2" width="7.8" height="3.1" fill="#141414"/>
<rect x="698.3" y="1652.1" width="16.0" height="37.9" fill="#e0e0e0"/>
<rect x="704.8" y="1645.2" width="3" height="7.4" fill="#141414"/>
<rect x="702.4" y="1645.2" width="7.8" height="3.1" fill="#141414"/>
<rect x="722.9" y="1662.2" width="16.0" height="27.8" fill="#b4b4b4"/>
<rect x="729.4" y="1654.8" width="3" height="7.9" fill="#141414"/>
<rect x="727.0" y="1654.8" width="7.8" height="3.1" fill="#141414"/>
<rect x="747.4" y="1654.2" width="16.0" height="35.8" fill="#9b9b9b"/>
<rect x="753.9" y="1647.7" width="3" height="7.0" fill="#141414"/>
<rect x="751.5" y="1647.7" width="7.8" height="3.1" fill="#141414"/>
<rect x="788.0" y="1684.4" width="16.0" height="5.6" fill="#1c1c1c"/>
<rect x="794.5" y="1682.1" width="3" height="2.8" fill="#141414"/>
<rect x="792.1" y="1682.1" width="7.8" height="3.1" fill="#141414"/>
<rect x="812.5" y="1684.4" width="16.0" height="5.6" fill="#e0e0e0"/>
<rect x="819.0" y="1682.1" width="3" height="2.8" fill="#141414"/>
<rect x="816.6" y="1682.1" width="7.8" height="3.1" fill="#141414"/>
<rect x="837.1" y="1686.2" width="16.0" height="3.8" fill="#b4b4b4"/>
<rect x="843.6" y="1683.5" width="3" height="3.2" fill="#141414"/>
<rect x="841.2" y="1683.5" width="7.8" height="3.1" fill="#141414"/>
<rect x="861.6" y="1683.5" width="16.0" height="6.5" fill="#9b9b9b"/>
<rect x="868.1" y="1681.0" width="3" height="3.0" fill="#141414"/>
<rect x="865.8" y="1681.0" width="7.8" height="3.1" fill="#141414"/>
<path d="M546.5 1450.8V1690.0H890.9" stroke="#0d0d0d" stroke-width="2.5" fill="none"/>
<path d="M539.1 1452.0H546.5" stroke="#0d0d0d" stroke-width="2.3"/>
<text x="540.1" y="1458.1" font-size="17" font-weight="bold" text-anchor="end" font-family="Liberation Sans, sans-serif" fill="#0d0d0d">1.5</text>
<path d="M539.1 1531.3H546.5" stroke="#0d0d0d" stroke-width="2.3"/>
<text x="540.1" y="1537.4" font-size="17" font-weight="bold" text-anchor="end" font-family="Liberation Sans, sans-serif" fill="#0d0d0d">1.0</text>
<path d="M539.1 1610.7H546.5" stroke="#0d0d0d" stroke-width="2.3"/>
<text x="540.1" y="1616.8" font-size="17" font-weight="bold" text-anchor="end" font-family="Liberation Sans, sans-serif" fill="#0d0d0d">0.5</text>
<path d="M539.1 1690.0H546.5" stroke="#0d0d0d" stroke-width="2.3"/>
<text x="540.1" y="1696.1" font-size="17" font-weight="bold" text-anchor="end" font-family="Liberation Sans, sans-serif" fill="#0d0d0d">0.0</text>
<path d="M603.4 1690.0V1697.6" stroke="#0d0d0d" stroke-width="2.3"/>
<path d="M718.2 1690.0V1697.6" stroke="#0d0d0d" stroke-width="2.3"/>
<path d="M832.0 1690.0V1697.6" stroke="#0d0d0d" stroke-width="2.3"/>
<text transform="translate(609.1 1713.3) rotate(-45)" font-size="17.7" font-weight="bold" text-anchor="end" font-family="Liberation Sans, sans-serif" fill="#0d0d0d">basilar membrane</text>
<text transform="translate(725.8 1711.8) rotate(-45)" font-size="18.5" font-weight="bold" text-anchor="end" font-family="Liberation Sans, sans-serif" fill="#0d0d0d">modiolus</text>
<text transform="translate(836.4 1715.9) rotate(-45)" font-size="18.3" font-weight="bold" text-anchor="end" font-family="Liberation Sans, sans-serif" fill="#0d0d0d">vestibule</text>
<text x="718.8" y="1423.3" font-size="22.3" text-anchor="middle" font-family="Liberation Sans, sans-serif" fill="#0d0d0d">IL-10(14d)</text>
<rect x="133.0" y="1996.8" width="16.5" height="154.4" fill="#1c1c1c"/>
<rect x="139.8" y="1986.3" width="3" height="11.0" fill="#141414"/>
<rect x="137.3" y="1986.3" width="7.8" height="3.1" fill="#141414"/>
<rect x="157.8" y="1995.7" width="16.5" height="155.5" fill="#e0e0e0"/>
<rect x="164.6" y="1984.9" width="3" height="11.3" fill="#141414"/>
<rect x="162.2" y="1984.9" width="7.8" height="3.1" fill="#141414"/>
<rect x="182.7" y="1969.9" width="16.5" height="181.3" fill="#b4b4b4"/>
<rect x="189.4" y="1953.8" width="3" height="16.6" fill="#141414"/>
<rect x="187.0" y="1953.8" width="7.8" height="3.1" fill="#141414"/>
<rect x="207.6" y="1986.7" width="16.5" height="164.5" fill="#9b9b9b"/>
<rect x="214.3" y="1973.7" width="3" height="13.5" fill="#141414"/>
<rect x="211.9" y="1973.7" width="7.8" height="3.1" fill="#141414"/>
<rect x="248.9" y="2029.2" width="16.5" height="122.0" fill="#1c1c1c"/>
<rect x="255.6" y="2020.7" width="3" height="9.0" fill="#141414"/>
<rect x="253.2" y="2020.7" width="7.8" height="3.1" fill="#141414"/>
<rect x="273.8" y="2031.5" width="16.5" height="119.7" fill="#e0e0e0"/>
<rect x="280.5" y="2022.1" width="3" height="9.9" fill="#141414"/>
<rect x="278.1" y="2022.1" width="7.8" height="3.1" fill="#141414"/>
<rect x="298.6" y="1987.4" width="16.5" height="163.8" fill="#b4b4b4"/>
<rect x="305.4" y="1953.8" width="3" height="34.1" fill="#141414"/>
<rect x="303.0" y="1953.8" width="7.8" height="3.1" fill="#141414"/>
<rect x="323.5" y="1995.2" width="16.5" height="156.0" fill="#9b9b9b"/>
<rect x="330.2" y="1974.9" width="3" height="20.8" fill="#141414"/>
<rect x="327.8" y="1974.9" width="7.8" height="3.1" fill="#141414"/>
<rect x="364.0" y="2136.6" width="16.5" height="14.6" fill="#1c1c1c"/>
<rect x="370.8" y="2132.8" width="3" height="4.3" fill="#141414"/>
<rect x="368.4" y="2132.8" width="7.8" height="3.1" fill="#141414"/>
<rect x="388.9" y="2136.2" width="16.5" height="15.0" fill="#e0e0e0"/>
<rect x="395.6" y="2131.0" width="3" height="5.7" fill="#141414"/>
<rect x="393.2" y="2131.0" width="7.8" height="3.1" fill="#141414"/>
<rect x="413.7" y="2129.9" width="16.5" height="21.3" fill="#b4b4b4"/>
<rect x="420.4" y="2125.9" width="3" height="4.5" fill="#141414"/>
<rect x="418.1" y="2125.9" width="7.8" height="3.1" fill="#141414"/>
<rect x="438.6" y="2132.6" width="16.5" height="18.6" fill="#9b9b9b"/>
<rect x="445.3" y="2129.5" width="3" height="3.6" fill="#141414"/>
<rect x="442.9" y="2129.5" width="7.8" height="3.1" fill="#141414"/>
<path d="M120.4 1918.5V2151.2H468.9" stroke="#0d0d0d" stroke-width="2.5" fill="none"/>
<path d="M113.0 1919.7H120.4" stroke="#0d0d0d" stroke-width="2.3"/>
<text x="110.6" y="1925.8" font-size="17" font-weight="bold" text-anchor="end" font-family="Liberation Sans, sans-serif" fill="#0d0d0d">1.5</text>
<path d="M113.0 1996.9H120.4" stroke="#0d0d0d" stroke-width="2.3"/>
<text x="110.6" y="2003.0" font-size="17" font-weight="bold" text-anchor="end" font-family="Liberation Sans, sans-serif" fill="#0d0d0d">1.0</text>
<path d="M113.0 2074.0H120.4" stroke="#0d0d0d" stroke-width="2.3"/>
<text x="110.6" y="2080.1" font-size="17" font-weight="bold" text-anchor="end" font-family="Liberation Sans, sans-serif" fill="#0d0d0d">0.5</text>
<path d="M113.0 2151.2H120.4" stroke="#0d0d0d" stroke-width="2.3"/>
<text x="110.6" y="2157.3" font-size="17" font-weight="bold" text-anchor="end" font-family="Liberation Sans, sans-serif" fill="#0d0d0d">0.0</text>
<path d="M177.8 2151.2V2158.8" stroke="#0d0d0d" stroke-width="2.3"/>
<path d="M293.5 2151.2V2158.8" stroke="#0d0d0d" stroke-width="2.3"/>
<path d="M409.1 2151.2V2158.8" stroke="#0d0d0d" stroke-width="2.3"/>
<text transform="translate(183.5 2173.7) rotate(-45)" font-size="17.7" font-weight="bold" text-anchor="end" font-family="Liberation Sans, sans-serif" fill="#0d0d0d">basilar membrane</text>
<text transform="translate(301.1 2172.2) rotate(-45)" font-size="18.5" font-weight="bold" text-anchor="end" font-family="Liberation Sans, sans-serif" fill="#0d0d0d">modiolus</text>
<text transform="translate(413.5 2176.3) rotate(-45)" font-size="18.3" font-weight="bold" text-anchor="end" font-family="Liberation Sans, sans-serif" fill="#0d0d0d">vestibule</text>
<text x="295.0" y="1891.9" font-size="22.4" text-anchor="middle" font-family="Liberation Sans, sans-serif" fill="#0d0d0d">IFN-γ(7d)</text>
<text transform="translate(80.0 2035.3) rotate(-90) scale(0.9766 1)" font-size="19.5" font-weight="bold" text-anchor="middle" font-family="Liberation Sans, sans-serif" fill="#0d0d0d">the relative expression of  IFN-γ mRNA</text>
<text x="7.4" y="1878.1" font-size="78" font-weight="bold" font-family="Liberation Serif, serif" fill="#0b0b05">E</text>
<rect x="559.5" y="1987.9" width="16.0" height="158.8" fill="#1c1c1c"/>
<rect x="566.0" y="1976.7" width="3" height="11.7" fill="#141414"/>
<rect x="563.6" y="1976.7" width="7.8" height="3.1" fill="#141414"/>
<rect x="584.0" y="1986.8" width="16.0" height="159.9" fill="#e0e0e0"/>
<rect x="590.5" y="1965.5" width="3" height="21.8" fill="#141414"/>
<rect x="588.1" y="1965.5" width="7.8" height="3.1" fill="#141414"/>
<rect x="608.6" y="1964.4" width="16.0" height="182.3" fill="#b4b4b4"/>
<rect x="615.1" y="1942.0" width="3" height="22.9" fill="#141414"/>
<rect x="612.7" y="1942.0" width="7.8" height="3.1" fill="#141414"/>
<rect x="633.1" y="1979.6" width="16.0" height="167.1" fill="#9b9b9b"/>
<rect x="639.6" y="1967.1" width="3" height="13.0" fill="#141414"/>
<rect x="637.2" y="1967.1" width="7.8" height="3.1" fill="#141414"/>
<rect x="673.9" y="2021.5" width="16.0" height="125.2" fill="#1c1c1c"/>
<rect x="680.4" y="2012.5" width="3" height="9.5" fill="#141414"/>
<rect x="678.0" y="2012.5" width="7.8" height="3.1" fill="#141414"/>
<rect x="698.4" y="2023.7" width="16.0" height="123.0" fill="#e0e0e0"/>
<rect x="704.9" y="2011.4" width="3" height="12.8" fill="#141414"/>
<rect x="702.5" y="2011.4" width="7.8" height="3.1" fill="#141414"/>
<rect x="723.0" y="1984.1" width="16.0" height="162.6" fill="#b4b4b4"/>
<rect x="729.5" y="1952.1" width="3" height="32.5" fill="#141414"/>
<rect x="727.1" y="1952.1" width="7.8" height="3.1" fill="#141414"/>
<rect x="747.5" y="1991.9" width="16.0" height="154.8" fill="#9b9b9b"/>
<rect x="754.0" y="1968.4" width="3" height="24.0" fill="#141414"/>
<rect x="751.6" y="1968.4" width="7.8" height="3.1" fill="#141414"/>
<rect x="788.0" y="2131.8" width="16.0" height="14.9" fill="#1c1c1c"/>
<rect x="794.5" y="2127.7" width="3" height="4.6" fill="#141414"/>
<rect x="792.1" y="2127.7" width="7.8" height="3.1" fill="#141414"/>
<rect x="812.5" y="2131.8" width="16.0" height="14.9" fill="#e0e0e0"/>
<rect x="819.0" y="2128.4" width="3" height="3.9" fill="#141414"/>
<rect x="816.6" y="2128.4" width="7.8" height="3.1" fill="#141414"/>
<rect x="837.1" y="2126.2" width="16.0" height="20.5" fill="#b4b4b4"/>
<rect x="843.6" y="2121.0" width="3" height="5.7" fill="#141414"/>
<rect x="841.2" y="2121.0" width="7.8" height="3.1" fill="#141414"/>
<rect x="861.6" y="2128.2" width="16.0" height="18.5" fill="#9b9b9b"/>
<rect x="868.1" y="2125.3" width="3" height="3.4" fill="#141414"/>
<rect x="865.8" y="2125.3" width="7.8" height="3.1" fill="#141414"/>
<path d="M547.0 1907.5V2146.7H890.9" stroke="#0d0d0d" stroke-width="2.5" fill="none"/>
<path d="M539.6 1908.8H547.0" stroke="#0d0d0d" stroke-width="2.3"/>
<text x="539.7" y="1914.9" font-size="17" font-weight="bold" text-anchor="end" font-family="Liberation Sans, sans-serif" fill="#0d0d0d">1.5</text>
<path d="M539.6 1988.1H547.0" stroke="#0d0d0d" stroke-width="2.3"/>
<text x="539.7" y="1994.2" font-size="17" font-weight="bold" text-anchor="end" font-family="Liberation Sans, sans-serif" fill="#0d0d0d">1.0</text>
<path d="M539.6 2067.4H547.0" stroke="#0d0d0d" stroke-width="2.3"/>
<text x="539.7" y="2073.5" font-size="17" font-weight="bold" text-anchor="end" font-family="Liberation Sans, sans-serif" fill="#0d0d0d">0.5</text>
<path d="M539.6 2146.7H547.0" stroke="#0d0d0d" stroke-width="2.3"/>
<text x="539.7" y="2152.8" font-size="17" font-weight="bold" text-anchor="end" font-family="Liberation Sans, sans-serif" fill="#0d0d0d">0.0</text>
<path d="M604.0 2146.7V2154.3" stroke="#0d0d0d" stroke-width="2.3"/>
<path d="M718.6 2146.7V2154.3" stroke="#0d0d0d" stroke-width="2.3"/>
<path d="M832.3 2146.7V2154.3" stroke="#0d0d0d" stroke-width="2.3"/>
<text transform="translate(609.7 2170.1) rotate(-45)" font-size="17.7" font-weight="bold" text-anchor="end" font-family="Liberation Sans, sans-serif" fill="#0d0d0d">basilar membrane</text>
<text transform="translate(726.2 2168.6) rotate(-45)" font-size="18.5" font-weight="bold" text-anchor="end" font-family="Liberation Sans, sans-serif" fill="#0d0d0d">modiolus</text>
<text transform="translate(836.7 2172.7) rotate(-45)" font-size="18.3" font-weight="bold" text-anchor="end" font-family="Liberation Sans, sans-serif" fill="#0d0d0d">vestibule</text>
<text x="719.0" y="1879.7" font-size="22.3" text-anchor="middle" font-family="Liberation Sans, sans-serif" fill="#0d0d0d">IFN-γ (14d)</text>
<rect x="758.1" y="92.9" width="24.4" height="12.4" fill="#1c1c1c"/>
<text x="796.5" y="105.7" font-size="18.5" font-family="Liberation Sans, sans-serif" fill="#0d0d0d">Sham/WT</text>
<rect x="758.1" y="123.9" width="24.4" height="12.4" fill="#e0e0e0"/>
<text x="796.5" y="136.7" font-size="17.5" font-family="Liberation Sans, sans-serif" fill="#0d0d0d">RvE1</text>
<rect x="758.1" y="153.2" width="24.4" height="12.4" fill="#b4b4b4"/>
<text x="796.5" y="166.0" font-size="18.3" font-family="Liberation Sans, sans-serif" fill="#0d0d0d">Rad</text>
<rect x="758.1" y="182.2" width="24.4" height="12.4" fill="#9b9b9b"/>
<text x="796.5" y="195.0" font-size="18.0" font-family="Liberation Sans, sans-serif" fill="#0d0d0d">Rad+RvE1</text>
</svg></body></html>
